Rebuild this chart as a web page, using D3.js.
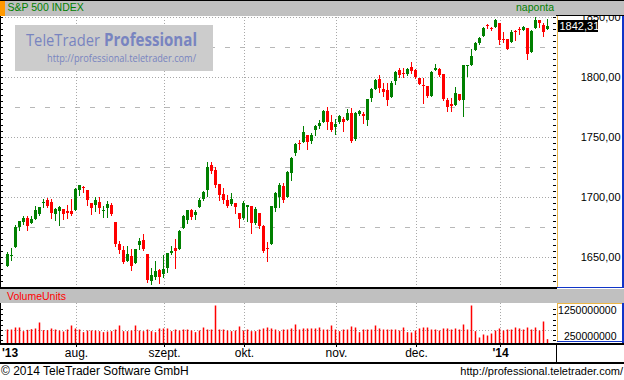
<!DOCTYPE html>
<html>
<head>
<meta charset="utf-8">
<script src="https://cdn.jsdelivr.net/npm/d3@7"></script>
<style>
  html, body { margin: 0; padding: 0; background: #fff; }
  svg { display: block; font-family: "Liberation Sans", Arial, sans-serif; }
</style>
</head>
<body>
<div id="chart"></div>
<script>
// daily candles, 2013-07-09 .. 2014-01-21 : [open, high, low, close]
const candles = [
  [1642.7,1654.4,1642.7,1652.7],[1651,1657.7,1647.7,1652],[1658,1676.6,1658,1675],[1675.2,1680.2,1672.7,1680.2],
  [1679.1,1684.4,1677.7,1682.7],[1682.7,1683.8,1672.2,1676.1],[1678,1684.4,1678,1681.4],[1681.4,1692.7,1681.4,1689.4],
  [1686.1,1691.9,1684.7,1691.9],[1695,1698,1691.3,1695.5],[1697.2,1698.8,1691.3,1692.7],[1696.1,1698.6,1682.7,1686.3],
  [1685.5,1690.8,1680.5,1690],[1688,1692.7,1676.3,1691.6],[1690.2,1690.2,1681.9,1685.5],[1688,1693.6,1682.7,1686.3],
  [1688,1698.6,1685.2,1686.1],[1689.4,1707.5,1689.4,1706.9],[1706.1,1709.7,1701.4,1709.7],[1708,1709.4,1703.8,1707.5],
  [1706.1,1706.1,1693.6,1697.7],[1695.2,1695.2,1685.5,1691.1],[1693.6,1700.2,1688.6,1697.7],[1696.1,1700.2,1686.3,1691.1],
  [1689,1692.2,1683.6,1689.5],[1691.1,1696.3,1683,1694.4],[1693.6,1695.2,1684.7,1685.5],[1679.4,1679.4,1658.8,1661.1],
  [1661.1,1663.6,1653,1656.1],[1655.5,1659.4,1645.2,1646.1],[1646.9,1659.4,1646.9,1652.7],[1651.1,1656.9,1639.4,1642.7],
  [1645.2,1656.9,1645.2,1656.9],[1660.2,1666.1,1656.9,1663.6],[1664.4,1669.4,1656.1,1656.9],[1652.7,1652.7,1629.4,1631.1],
  [1630.2,1641.1,1627.8,1635.2],[1633.6,1646.9,1631.9,1638.6],[1639.4,1640.2,1628.6,1633.6],[1636.1,1651.9,1633.6,1640.2],
  [1641.1,1653.6,1637.7,1653.6],[1653.6,1659.4,1652.7,1655.2],[1657.7,1665.2,1641.1,1655.2],[1656.9,1672.7,1656.9,1671.9],
  [1674.4,1685.2,1674,1684.4],[1681.1,1689.4,1678.6,1689.4],[1689.4,1690.2,1681.9,1683.6],[1685.2,1689.4,1681.9,1687.7],
  [1691.9,1699,1691.5,1697.7],[1698,1705.2,1697.5,1704.4],[1706.1,1729.4,1700.5,1725.2],[1726.9,1729.4,1720.2,1721.9],
  [1722.7,1725.2,1708.6,1710.2],[1711.1,1711.1,1697.7,1701.9],[1702.7,1707.7,1695.2,1697.7],[1697.7,1701.9,1691.9,1692.7],
  [1694.4,1703.6,1693.6,1698.6],[1695.2,1695.2,1686.9,1691.9],[1686.9,1686.9,1675.2,1681.9],[1682.7,1696.9,1681.9,1695.2],
  [1691.9,1693.6,1680.2,1693.6],[1692.7,1692.7,1670.2,1678.6],[1678.6,1691.9,1677.7,1690.2],[1686.9,1686.9,1674.4,1676.1],
  [1676.1,1676.9,1654.4,1655.2],[1657.3,1662.7,1646.9,1656.9],[1661.1,1692.7,1661.1,1692.7],[1691.1,1704.4,1688.6,1703.6],
  [1700.2,1711.9,1691.9,1710.2],[1709.4,1711.9,1696.1,1697.7],[1700.2,1721.9,1700.2,1721.1],[1720.2,1733.6,1714.4,1732.7],
  [1736.9,1745.2,1735.2,1744.4],[1745,1747.8,1740.3,1744],[1746.1,1759.4,1746.1,1754.4],[1752,1752,1740.3,1746.1],
  [1746.9,1753.6,1745.2,1751.9],[1756.1,1760.2,1751.9,1759.4],[1759.4,1764.4,1757.7,1761.9],[1762.7,1772.8,1762.7,1771.9],
  [1771.9,1775.2,1756.9,1762.7],[1762.7,1768.6,1755.2,1756.1],[1758.6,1765.2,1752.7,1761.1],[1762.7,1768.6,1762,1767.8],
  [1765.2,1766.9,1755.2,1762.7],[1764.4,1773.6,1764.4,1770.2],[1770.2,1774.4,1746.1,1746.9],[1748.6,1771.1,1747.8,1770.2],
  [1769.4,1772.8,1768.6,1771.9],[1769.4,1771.1,1761.9,1767.8],[1764.4,1781.9,1760.2,1781.9],[1782.8,1791.1,1780.2,1790.2],
  [1790.2,1798.6,1790.2,1797.8],[1798.6,1801.9,1787.8,1791.1],[1790.2,1795.2,1784.4,1787.8],[1789.4,1795.2,1776.9,1781.1],
  [1783.6,1796.9,1783.6,1795.2],[1796.9,1805.2,1794.4,1804.4],[1806.1,1807.8,1800.2,1801.9],[1803,1807.8,1800.2,1802.8],
  [1802.7,1807.7,1802,1806.9],[1808.6,1812.7,1803.6,1805.2],[1806.1,1806.9,1799.4,1800.2],[1799.4,1799.4,1794.4,1794.4],
  [1793,1799.4,1778.6,1792.7],[1792.7,1792.7,1783.6,1784.4],[1784.4,1805.2,1784.4,1804.4],[1806.1,1811.1,1806.1,1807.7],
  [1806.9,1807.7,1801.1,1801.9],[1802.7,1802.7,1781.1,1781.9],[1781.1,1782.8,1771.9,1775.2],[1777.7,1782.8,1771.9,1776.1],
  [1776.9,1791.9,1776.9,1786.9],[1786.1,1786.1,1781.1,1781.1],[1781.1,1810.2,1767.7,1810.2],[1809.4,1810.2,1801.1,1810.2],
  [1810.2,1823.6,1810.2,1817.7],[1822.7,1829.4,1822.7,1828.6],[1828.6,1833.6,1827.7,1832.7],[1834.4,1841.9,1834.4,1841.1],
  [1843,1844.4,1841.1,1842.7],[1841.2,1841.9,1839.4,1841],[1841.9,1848.6,1841.9,1847.7],[1845.2,1845.2,1827.7,1831.1],
  [1832,1837.7,1829.4,1831.9],[1831.9,1831.9,1823.6,1823.6],[1829.4,1839.4,1829.4,1837.7],[1838.6,1839.4,1831.1,1838.4],
  [1839.6,1841.9,1836.1,1839.4],[1839.4,1842.7,1839.4,1841.9],[1841.1,1841.1,1815.2,1819.4],[1821.1,1839.4,1821.1,1838.6],
  [1841.1,1850.2,1841.1,1847.7],[1847.7,1847.7,1841.9,1845.2],[1843.6,1845.2,1834.4,1837.7],[1840.3,1848.6,1840.3,1842.31]
];

// volume, millions
const volumes = [
  519,519,596,596,455,506,532,558,788,494,494,558,519,481,442,519,673,558,519,417,
  481,481,481,455,417,442,455,519,673,455,455,481,673,481,455,519,455,417,558,558,
  558,455,519,481,519,519,481,417,481,596,519,519,1442,519,519,481,455,481,635,481,
  519,455,455,519,558,596,558,519,455,519,519,558,712,519,558,558,558,558,596,519,
  519,673,519,455,519,519,635,596,417,519,519,519,673,558,519,519,519,519,481,596,
  417,404,481,558,596,596,519,519,481,558,558,519,558,519,712,519,1442,455,212,327,
  288,365,481,558,481,519,519,596,558,519,596,519,596,481,827,147
];

const monthLabels = ["'13", "aug.", "szept.", "okt.", "nov.", "dec.", "'14"];
const monthStarts = [0, 17, 39, 59, 82, 102, 123];   // candle index of first trading day
const priceTicks = [1650, 1700, 1750, 1800, 1850];
const halfTicks = [1675, 1725, 1775, 1825];
const volumeTicks = [250, 1250];
const lastPrice = 1842.31;

(function () {

    const W = 624, H = 380;
    const green = '#008000', red = '#ff0000';
    const gridCol = '#a8a8a8';
    const orange = '#ecb646', blue = '#1035c8';

    const svg = d3.select('#chart')
        .append('svg')
        .attr('width', W)
        .attr('height', H)
        .attr('shape-rendering', 'crispEdges');

    svg.append('rect').attr('width', W).attr('height', H).attr('fill', '#fff');

    // scales
    const x = d3.scaleLinear()
        .domain([0, candles.length - 1])
        .range([7, 547]);

    const y = d3.scaleLinear()
        .domain([1650, 1850])
        .range([257, 17]);

    const yv = d3.scaleLinear()
        .domain([0, 1250])
        .range([343, 310.5]);

    const fmt = v => v.toFixed(2).replace('.', ',');

    // ---- price panel grid
    const grid = svg.append('g');
    grid.selectAll('.hg')
        .data(priceTicks)
        .enter().append('line')
        .attr('x1', 2).attr('x2', 556)
        .attr('y1', d => Math.round(y(d)) + 0.5)
        .attr('y2', d => Math.round(y(d)) + 0.5)
        .attr('stroke', gridCol)
        .attr('stroke-dasharray', '1,2');

    grid.selectAll('.hh')
        .data(halfTicks)
        .enter().append('line')
        .attr('x1', 15).attr('x2', 556)
        .attr('y1', d => Math.round(y(d)) + 0.5)
        .attr('y2', d => Math.round(y(d)) + 0.5)
        .attr('stroke', '#b8b8b8')
        .attr('stroke-dasharray', '5,10');

    const vGrid = monthStarts.slice(1);
    grid.selectAll('.vg')
        .data(vGrid)
        .enter().append('line')
        .attr('x1', d => x(d) + 1.5).attr('x2', d => x(d) + 1.5)
        .attr('y1', 17).attr('y2', 287)
        .attr('stroke', gridCol)
        .attr('stroke-dasharray', '1,2');

    // logo box
    const logo = svg.append('g')
        .attr('font-family', '"Open Sans", "Liberation Sans", sans-serif')
        .attr('fill', '#7884c0');
    logo.append('rect')
        .attr('x', 15).attr('y', 25).attr('width', 198).attr('height', 46)
        .attr('fill', '#cccccc');
    logo.append('text')
        .attr('x', 26).attr('y', 46)
        .attr('font-size', 17)
        .attr('textLength', 74)
        .attr('lengthAdjust', 'spacingAndGlyphs')
        .text('TeleTrader');
    logo.append('text')
        .attr('x', 104).attr('y', 46)
        .attr('font-size', 17)
        .attr('font-weight', 'bold')
        .attr('textLength', 93)
        .attr('lengthAdjust', 'spacingAndGlyphs')
        .text('Professional');
    logo.append('text')
        .attr('x', 47).attr('y', 61.5)
        .attr('font-size', 11)
        .attr('textLength', 149)
        .attr('lengthAdjust', 'spacingAndGlyphs')
        .text('http://professional.teletrader.com/');

    // ---- candles
    const cg = svg.append('g');
    const candle = cg.selectAll('g.c')
        .data(candles)
        .enter().append('g');

    candle.append('line')
        .attr('x1', (d, i) => x(i) + 0.5)
        .attr('x2', (d, i) => x(i) + 0.5)
        .attr('y1', d => y(d[1]))
        .attr('y2', d => y(d[2]) + 1)
        .attr('stroke', d => d[3] >= d[0] ? green : red);

    candle.append('rect')
        .attr('x', (d, i) => x(i) - 1)
        .attr('width', 3)
        .attr('y', d => y(Math.max(d[0], d[3])))
        .attr('height', d => Math.max(1, Math.abs(y(d[0]) - y(d[3]))))
        .attr('fill', d => d[3] >= d[0] ? green : red);

    // left edge + minor ticks
    svg.append('line')
        .attr('x1', 0.5).attr('x2', 0.5).attr('y1', 16).attr('y2', 288)
        .attr('stroke', '#000');
    svg.append('g')
        .call(d3.axisRight(y).tickValues(d3.range(1625, 1851, 5)).tickSize(3).tickFormat(''))
        .call(g => g.select('.domain').remove());
    svg.append('g')
        .attr('transform', 'translate(556,0)')
        .call(d3.axisLeft(y).tickValues(d3.range(1625, 1851, 5)).tickSize(3).tickFormat(''))
        .call(g => g.select('.domain').remove());

    // ---- price axis panel
    svg.append('rect')
        .attr('x', 557).attr('y', 16).attr('width', 67).attr('height', 272)
        .attr('fill', '#fff');
    svg.append('g')
        .attr('transform', 'translate(620.5,0)')
        .call(d3.axisLeft(y).tickValues(priceTicks).tickSize(0).tickPadding(0).tickFormat(fmt))
        .call(g => g.select('.domain').remove())
        .call(g => g.selectAll('text')
            .attr('font-family', '"Liberation Sans", Arial, sans-serif')
            .attr('font-size', 11).attr('fill', '#000'));

    // last price marker (covers the 1850 label, as in the original)
    svg.append('rect')
        .attr('x', 557).attr('y', y(lastPrice) - 6)
        .attr('width', 41).attr('height', 12)
        .attr('fill', '#000');
    svg.append('text')
        .attr('x', 559.5).attr('y', y(lastPrice) + 4)
        .attr('font-size', 11).attr('fill', '#fff')
        .text(fmt(lastPrice));

    svg.append('line').attr('x1', 557.5).attr('x2', 557.5).attr('y1', 16).attr('y2', 287)
        .attr('stroke', orange);
    svg.append('rect').attr('x', 621.5).attr('y', 16).attr('width', 2).attr('height', 272)
        .attr('fill', blue);
    svg.append('line').attr('x1', 557).attr('x2', 623).attr('y1', 287.5).attr('y2', 287.5)
        .attr('stroke', blue);

    // bottom border of price panel
    svg.append('rect').attr('x', 0).attr('y', 287).attr('width', 557).attr('height', 2)
        .attr('fill', '#000');

    // ---- title bar (drawn on top so it clips the top label)
    svg.append('rect').attr('x', 0).attr('y', 0).attr('width', W).attr('height', 16)
        .attr('fill', '#c0c0c0');
    svg.append('line').attr('x1', 0).attr('x2', W).attr('y1', 0.5).attr('y2', 0.5)
        .attr('stroke', '#000');
    svg.append('rect').attr('x', 0).attr('y', 1).attr('width', 5).attr('height', 15)
        .attr('fill', '#ff9900');
    svg.append('line').attr('x1', 556).attr('x2', W).attr('y1', 15.5).attr('y2', 15.5)
        .attr('stroke', '#000');
    svg.append('text')
        .attr('x', 7.5).attr('y', 11)
        .attr('font-size', 10.5).attr('fill', green)
        .text('S&P 500 INDEX');
    svg.append('text')
        .attr('x', 554).attr('y', 11)
        .attr('text-anchor', 'end')
        .attr('font-size', 10.5).attr('fill', green)
        .text('naponta');

    // ---- volume panel
    svg.append('rect').attr('x', 0).attr('y', 289).attr('width', W).attr('height', 14)
        .attr('fill', '#c0c0c0');
    svg.append('text')
        .attr('x', 7).attr('y', 299.5)
        .attr('font-size', 10.5).attr('fill', red)
        .text('VolumeUnits');

    const vg = svg.append('g');
    vg.append('line')
        .attr('x1', 2).attr('x2', 556)
        .attr('y1', Math.round(yv(500)) + 0.5).attr('y2', Math.round(yv(500)) + 0.5)
        .attr('stroke', gridCol).attr('stroke-dasharray', '1,2');
    vg.selectAll('.vvg')
        .data(vGrid)
        .enter().append('line')
        .attr('x1', d => x(d) + 1.5).attr('x2', d => x(d) + 1.5)
        .attr('y1', 303).attr('y2', 343)
        .attr('stroke', gridCol)
        .attr('stroke-dasharray', '1,2');

    vg.selectAll('rect.vb')
        .data(volumes)
        .enter().append('rect')
        .attr('shape-rendering', 'auto')
        .attr('x', (d, i) => x(i) - 0.25)
        .attr('width', 1.5)
        .attr('y', d => yv(d))
        .attr('height', d => yv(0) - yv(d))
        .attr('fill', red);

    svg.append('line')
        .attr('x1', 0.5).attr('x2', 0.5).attr('y1', 303).attr('y2', 343)
        .attr('stroke', '#000');
    svg.append('g')
        .call(d3.axisRight(yv).tickValues(d3.range(100, 1400, 200)).tickSize(3).tickFormat(''))
        .call(g => g.select('.domain').remove());
    svg.append('g')
        .attr('transform', 'translate(556,0)')
        .call(d3.axisLeft(yv).tickValues(d3.range(100, 1400, 200)).tickSize(3).tickFormat(''))
        .call(g => g.select('.domain').remove());

    svg.append('g')
        .attr('transform', 'translate(616.5,0)')
        .call(d3.axisLeft(yv).tickValues(volumeTicks).tickSize(0).tickPadding(0)
            .tickFormat(v => String(v * 1e6)))
        .call(g => g.select('.domain').remove())
        .call(g => g.selectAll('text')
            .attr('font-family', '"Liberation Sans", Arial, sans-serif')
            .attr('font-size', 10.5).attr('fill', '#000'));

    svg.append('line').attr('x1', 557).attr('x2', 622).attr('y1', 303.5).attr('y2', 303.5)
        .attr('stroke', orange);
    svg.append('line').attr('x1', 557.5).attr('x2', 557.5).attr('y1', 303).attr('y2', 342)
        .attr('stroke', orange);
    svg.append('rect').attr('x', 621.5).attr('y', 303).attr('width', 2).attr('height', 40)
        .attr('fill', blue);
    svg.append('line').attr('x1', 557).attr('x2', 623).attr('y1', 341.5).attr('y2', 341.5)
        .attr('stroke', blue);

    // ---- date axis
    svg.append('rect').attr('x', 0).attr('y', 343).attr('width', W).attr('height', 1.5)
        .attr('fill', '#000');
    svg.append('rect').attr('x', 0).attr('y', 362).attr('width', W).attr('height', 1.5)
        .attr('fill', '#000');
    svg.append('line').attr('x1', 556.5).attr('x2', 556.5).attr('y1', 343).attr('y2', 362)
        .attr('stroke', '#000');

    svg.append('g')
        .attr('transform', 'translate(1,344)')
        .call(d3.axisBottom(x).tickValues(vGrid).tickSize(3).tickFormat(''))
        .call(g => g.select('.domain').remove());

    svg.append('g')
        .selectAll('text')
        .data(monthLabels)
        .enter().append('text')
        .attr('x', (d, i) => i === 0 ? 2 : x(monthStarts[i]) + 1.5)
        .attr('y', 357)
        .attr('text-anchor', (d, i) => i === 0 ? 'start' : 'middle')
        .attr('font-size', 12)
        .attr('font-weight', d => d.charAt(0) === "'" ? 'bold' : 'normal')
        .attr('fill', '#000')
        .text(d => d);

    // ---- footer
    svg.append('text')
        .attr('x', 1).attr('y', 374.5)
        .attr('font-size', 12).attr('fill', '#000')
        .text('\u00a9 2014 TeleTrader Software GmbH');
    svg.append('text')
        .attr('x', 623).attr('y', 374.5)
        .attr('text-anchor', 'end')
        .attr('font-size', 11).attr('fill', '#000')
        .text('http://professional.teletrader.com/');

})();
</script>
</body>
</html>
